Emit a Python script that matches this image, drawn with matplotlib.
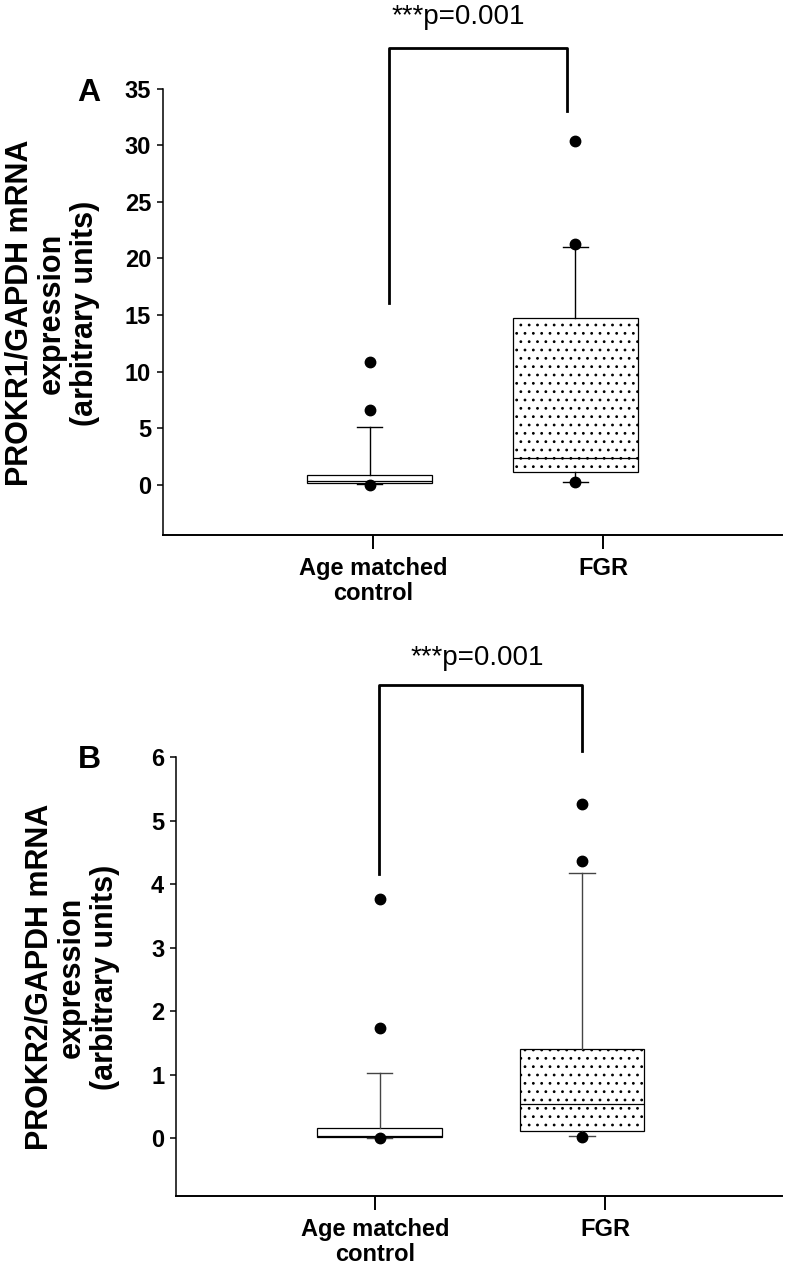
import matplotlib
matplotlib.use("Agg")
import matplotlib.pyplot as plt

plt.rcParams["font.family"] = ["Liberation Sans", "DejaVu Sans"]
plt.rcParams["hatch.linewidth"] = 0.8

# data
groups = ["Age matched\ncontrol", "FGR"]

a_q1 = [0.17, 1.1]
a_med = [0.35, 2.4]
a_q3 = [0.82, 14.7]
a_whislo = [0.1, 0.25]
a_whishi = [5.1, 21.0]
a_fliers = [[0.0, 6.6, 10.8], [0.2, 21.3, 30.4]]

b_q1 = [0.02, 0.12]
b_med = [0.04, 0.53]
b_q3 = [0.16, 1.41]
b_whislo = [0.01, 0.03]
b_whishi = [1.03, 4.17]
b_fliers = [[0.0, 1.73, 3.76], [0.02, 4.37, 5.26]]

p_text = "***p=0.001"
a_ylabel = "PROKR1/GAPDH mRNA\nexpression\n(arbitrary units)"
b_ylabel = "PROKR2/GAPDH mRNA\nexpression\n(arbitrary units)"


def make_stats(q1, med, q3, lo, hi, fl):
    out = []
    for i in range(len(q1)):
        out.append({"q1": q1[i], "med": med[i], "q3": q3[i],
                    "whislo": lo[i], "whishi": hi[i], "fliers": fl[i]})
    return out


def draw_panel(ax, stats, pos, xlim, ylim, ytop, yticks, wcolor):
    bp = ax.bxp(stats, positions=pos, widths=0.54, patch_artist=True,
                showfliers=True, capwidths=0.11,
                boxprops=dict(facecolor="white", edgecolor="black", linewidth=0.9),
                medianprops=dict(color="black", linewidth=0.9),
                whiskerprops=dict(color=wcolor, linewidth=1.0),
                capprops=dict(color=wcolor, linewidth=1.0),
                flierprops=dict(marker="o", markerfacecolor="black",
                                markeredgecolor="black", markersize=7.5))
    bp["boxes"][1].set_hatch("..")
    ax.set_xlim(*xlim)
    ax.set_ylim(ylim, ytop)
    ax.set_yticks(yticks)
    ax.set_xticks([1, 2])
    ax.set_xticklabels(groups, fontsize=17, fontweight="bold", linespacing=1.1)
    for lab in ax.get_yticklabels():
        lab.set_fontsize(17)
        lab.set_fontweight("bold")
    ax.spines["top"].set_visible(False)
    ax.spines["right"].set_visible(False)
    ax.spines["left"].set_linewidth(1.1)
    ax.spines["bottom"].set_linewidth(1.4)
    ax.tick_params(axis="y", direction="out", length=4.5, width=1.1, pad=4)
    ax.tick_params(axis="x", direction="out", length=10, width=1.4, pad=6)


fig = plt.figure(figsize=(7.86, 12.7), dpi=100)

# panel A
axA = fig.add_axes([0.2074, 0.5787, 0.7876, 0.3515])
draw_panel(axA, make_stats(a_q1, a_med, a_q3, a_whislo, a_whishi, a_fliers),
           [0.985, 1.88], (0.087, 2.778), -4.45, 35, range(0, 36, 5), "black")
axA.plot([1.07, 1.07, 1.843, 1.843], [16.1, 38.6, 38.6, 33.0], color="black",
         linewidth=2, clip_on=False)
axA.text(1.37, 41.3, p_text, fontsize=20, ha="center", va="center")
fig.text(89 / 786, 1 - 93 / 1270, "A", fontsize=23, fontweight="bold",
         ha="center", va="center")
fig.text(52 / 786, 1 - 313 / 1270, a_ylabel, fontsize=22, fontweight="bold",
         rotation=90, ha="center", va="center", linespacing=1.12)

# panel B
axB = fig.add_axes([0.2239, 0.0583, 0.7711, 0.3456])
draw_panel(axB, make_stats(b_q1, b_med, b_q3, b_whislo, b_whishi, b_fliers),
           [1.02, 1.9], (0.135, 2.77), -0.91, 6, range(0, 7), "#444444")
axB.plot([1.017, 1.017, 1.90, 1.90], [4.16, 7.13, 7.13, 6.1], color="black",
         linewidth=2, clip_on=False)
axB.text(1.443, 7.56, p_text, fontsize=20, ha="center", va="center")
fig.text(89 / 786, 1 - 760 / 1270, "B", fontsize=23, fontweight="bold",
         ha="center", va="center")
fig.text(72 / 786, 1 - 977 / 1270, b_ylabel, fontsize=22, fontweight="bold",
         rotation=90, ha="center", va="center", linespacing=1.12)

fig.savefig("out.png", dpi=100)
